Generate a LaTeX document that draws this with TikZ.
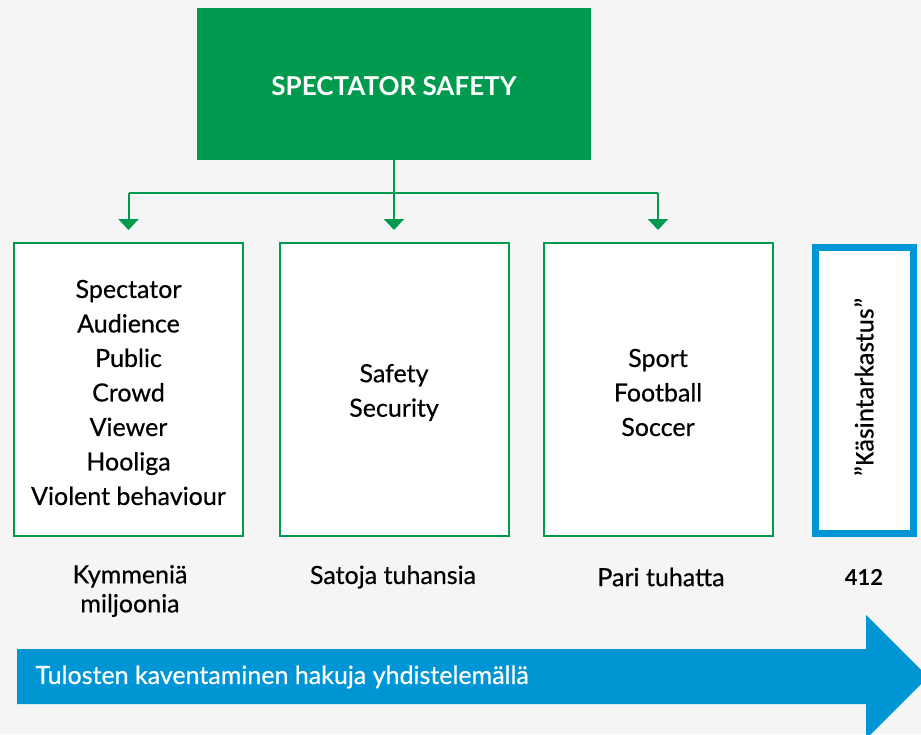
\documentclass[tikz,border=0pt]{standalone}
\usepackage{fontspec}
\setmainfont{Lato}[FakeBold=0.5]
\newfontfamily\titlefont{Lato Bold}
\newfontfamily\calibrifont{Carlito}[FakeBold=0.4]
\usetikzlibrary{arrows.meta}
\definecolor{sgreen}{RGB}{0,154,78}
\definecolor{sblue}{RGB}{0,150,214}
\definecolor{sback}{RGB}{244,245,244}
\tikzset{
	termbox/.style={draw=sgreen, line width=2pt, fill=white, minimum width=229pt, minimum height=293pt, inner sep=0pt, align=center, font=\fontsize{25}{34.5}\selectfont},
	countlabel/.style={align=center, font=\fontsize{25}{29}\selectfont},
	greenline/.style={draw=sgreen, line width=2pt},
	greenarrow/.style={greenline, -{Triangle[width=20pt,length=11pt]}, shorten >=12pt},
}

\begin{document}
\begin{tikzpicture}[x=1pt,y=-1pt]
		%%%%% START %%%%%
		
		\fill[sback] (0,0) rectangle (921,734);
		\useasboundingbox (0,0) rectangle (921,734);
		
		\node[fill=sgreen, minimum width=394pt, minimum height=152pt, inner sep=0pt] (top) at (394,84) {};
		\node[text=white, font=\titlefont\fontsize{26}{30}\selectfont] (toptext) at ([yshift=-2pt]top.center) {SPECTATOR SAFETY};
		
		\node[termbox] (terms) at (128.5,389.5) {};
		\node[termbox] (safety) at (394,389.5) {};
		\node[termbox] (sport) at (658,389.5) {};
		\node[align=center, font=\fontsize{25}{34.5}\selectfont] (termstext) at ([yshift=-3pt]terms.center) {Spectator\\Audience\\Public\\Crowd\\Viewer\\Hooliga\\Violent behaviour};
		\node[align=center, font=\fontsize{25}{34.5}\selectfont] (safetytext) at ([yshift=-3pt]safety.center) {Safety\\Security};
		\node[align=center, font=\fontsize{25}{34.5}\selectfont] (sporttext) at ([yshift=-3pt]sport.center) {Sport\\Football\\Soccer};
		\node[draw=sblue, line width=7pt, fill=white, minimum width=98pt, minimum height=286pt, inner sep=0pt] (manual) at (864,390) {};
		\node[rotate=90, font=\calibrifont\fontsize{27}{30}\selectfont] (manualtext) at ([yshift=3pt]manual.center) {”Käsintarkastus”};
		
		\coordinate (split) at ([yshift=-33pt]top.south);
		\draw[greenline] (top.south) -- (split);
		\draw[greenline] (split -| terms) -- (split -| sport);
		\draw[greenarrow] (split -| terms) -- (terms.north);
		\draw[greenarrow] (split) -- (safety.north);
		\draw[greenarrow] (split -| sport) -- (sport.north);
		
		\node[countlabel] (termscount) at (130,591) {Kymmeniä\\miljoonia};
		\node[countlabel] (safetycount) at (393,577) {Satoja tuhansia};
		\node[countlabel] (sportcount) at (661,577) {Pari tuhatta};
		\node[countlabel, font=\titlefont\fontsize{22}{29}\selectfont] (manualcount) at (864,577) {412};
		
		\fill[sblue] (17,649) -- (866,649) -- (866,615) -- (928,677) -- (866,739) -- (866,704) -- (17,704) -- cycle;
		\node[anchor=west, text=white, font=\fontsize{25}{28}\selectfont] (narrowing) at (32,677) {Tulosten kaventaminen hakuja yhdistelemällä};
		
		%%%%% END %%%%%
\end{tikzpicture}
\end{document}
